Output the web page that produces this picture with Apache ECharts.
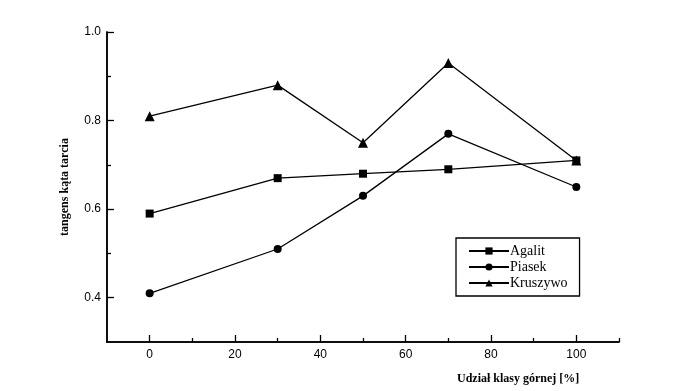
<!DOCTYPE html>
<html><head><meta charset="utf-8">
<script src="https://cdn.jsdelivr.net/npm/echarts@6/dist/echarts.min.js"></script>
<style>html,body{margin:0;padding:0;background:#fff}#c{width:695px;height:391px}</style>
</head><body><div id="c"></div>
<script>
const xValues = [0, 30, 50, 70, 100];
const agalit = [0.59, 0.67, 0.68, 0.69, 0.71];
const piasek = [0.41, 0.51, 0.63, 0.77, 0.65];
const kruszywo = [0.81, 0.88, 0.75, 0.93, 0.71];
const xMajorTicks = [0, 20, 40, 60, 80, 100];
const xMinorTicks = [10, 30, 50, 70, 90, 110];
const yMajorTicks = [0.4, 0.6, 0.8, 1.0];
const yMinorTicks = [0.5, 0.7, 0.9];

const pairs = v => xValues.map((x, i) => [x, v[i]]);
const chart = echarts.init(document.getElementById('c'));
const grid = {left: 107, right: 76, top: 32, bottom: 49};
const baseX = {type: 'value', min: -10, max: 110, position: 'bottom', splitLine: {show: false},
  axisLine: {show: true, onZero: false, lineStyle: {color: '#000', width: 1.5}}};
const baseY = {type: 'value', min: 0.3, max: 1.0, position: 'left', splitLine: {show: false},
  axisLine: {show: true, onZero: false, lineStyle: {color: '#000', width: 1.5}}};
const mk = (name, data, symbol, size) => ({
  name, type: 'line', data: pairs(data), symbol, symbolSize: size,
  lineStyle: {color: '#000', width: 1.3}, itemStyle: {color: '#000'}, xAxisIndex: 0, yAxisIndex: 0
});
chart.setOption({
  animation: false,
  grid,
  xAxis: [
    Object.assign({}, baseX, {
      axisTick: {show: true, inside: true, length: 7, customValues: xMajorTicks, lineStyle: {color: '#000', width: 1.3}},
      axisLabel: {customValues: xMajorTicks, color: '#000', fontFamily: 'Liberation Sans', fontSize: 12, margin: 7}
    }),
    Object.assign({}, baseX, {
      axisTick: {show: true, inside: true, length: 4, customValues: xMinorTicks, lineStyle: {color: '#000', width: 1.3}},
      axisLabel: {show: false}
    })
  ],
  yAxis: [
    Object.assign({}, baseY, {
      name: 'tangens kąta tarcia', nameLocation: 'middle', nameGap: 36,
      nameTextStyle: {fontFamily: 'Liberation Serif', fontSize: 12, fontWeight: 'bold', color: '#000'},
      axisTick: {show: true, inside: true, length: 7, customValues: yMajorTicks, lineStyle: {color: '#000', width: 1.3}},
      axisLabel: {customValues: yMajorTicks, color: '#000', fontFamily: 'Liberation Sans', fontSize: 12, margin: 6,
        formatter: v => v.toFixed(1)}
    }),
    Object.assign({}, baseY, {
      axisTick: {show: true, inside: true, length: 4, customValues: yMinorTicks, lineStyle: {color: '#000', width: 1.3}},
      axisLabel: {show: false}
    })
  ],
  legend: {
    left: 456, top: 238, orient: 'vertical',
    padding: [6, 12, 6, 12], itemGap: 2, itemWidth: 40, itemHeight: 9,
    borderColor: '#000', borderWidth: 1.3,
    textStyle: {fontFamily: 'Liberation Serif', fontSize: 14, color: '#000', padding: [0, 0, 0, -4]},
    data: ['Agalit', 'Piasek', 'Kruszywo']
  },
  graphic: [{
    type: 'text', left: 457, top: 373,
    style: {text: 'Udział klasy górnej [%]', font: 'bold 12px "Liberation Serif"', fill: '#000'}
  }],
  series: [
    mk('Agalit', agalit, 'rect', 8),
    mk('Piasek', piasek, 'circle', 8),
    mk('Kruszywo', kruszywo, 'triangle', 10)
  ]
});
</script></body></html>
